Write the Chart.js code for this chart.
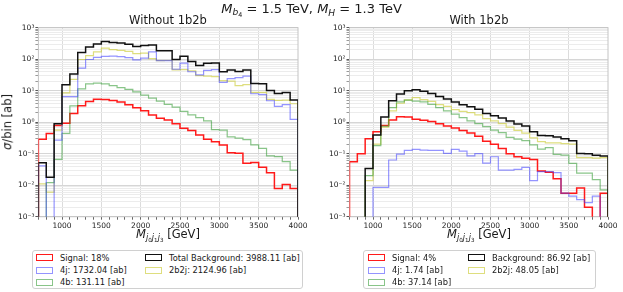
<!DOCTYPE html>
<html>
<head>
<meta charset="utf-8">
<script src="https://cdn.jsdelivr.net/npm/chart.js@4.4.1/dist/chart.umd.min.js"></script>
<style>
  body { margin: 0; background: #fff; font-family: "DejaVu Sans", sans-serif; }
  #fig { position: relative; width: 623px; height: 292px; overflow: hidden; background: #fff; }
  #fig canvas { position: absolute; left: 0; top: 0; }
  .txt { position: absolute; white-space: nowrap; color: #1a1a1a; line-height: 1; }
  .txt sub { font-size: 70%; vertical-align: -0.3em; line-height: 0; }
  .legend { position: absolute; border: 1px solid #d0d0d0; border-radius: 3px; background: #fff; box-sizing: border-box; }
  .legend .sw { position: absolute; width: 17px; height: 7px; box-sizing: border-box; border: 1.3px solid; }
  .legend .lt { position: absolute; font-size: 8.3px; color: #1a1a1a; white-space: nowrap; line-height: 1; }
</style>
</head>
<body>
<div id="fig">
  <canvas id="cLeft" width="623" height="292"></canvas>
  <canvas id="cRight" width="623" height="292"></canvas>

  <div class="txt" style="left:0;width:623px;text-align:center;top:1.5px;font-size:13px"><i>M</i><sub><i>b</i><sub>4</sub></sub> = 1.5 TeV, <i>M</i><sub><i>H</i></sub> = 1.3 TeV</div>
  <div class="txt" style="left:168px;top:21px;transform:translate(-50%,-50%);font-size:11.5px">Without 1b2b</div>
  <div class="txt" style="left:479px;top:21px;transform:translate(-50%,-50%);font-size:11.5px">With 1b2b</div>
  <div class="txt" style="left:8px;top:122px;transform:translate(-50%,-50%) rotate(-90deg);font-size:11.5px"><i>σ</i>/bin [ab]</div>
  <div class="txt" style="left:168px;top:235px;transform:translate(-50%,-50%);font-size:11.5px"><i>M</i><sub><i>j</i><sub>0</sub><i>j</i><sub>1</sub><i>j</i><sub>3</sub></sub> [GeV]</div>
  <div class="txt" style="left:479px;top:235px;transform:translate(-50%,-50%);font-size:11.5px"><i>M</i><sub><i>j</i><sub>0</sub><i>j</i><sub>1</sub><i>j</i><sub>3</sub></sub> [GeV]</div>

  <div class="legend" id="legLeft" style="left:32px;top:250px;width:271px;height:39px"></div>
  <div class="legend" id="legRight" style="left:363px;top:250px;width:233px;height:39px"></div>
</div>

<script>
// bin edges of the M_j0j1j3 histogram (GeV)
var binEdges = [700, 800, 900, 1000, 1100, 1200, 1300, 1400, 1500, 1600, 1700,
                1800, 1900, 2000, 2100, 2200, 2300, 2400, 2500, 2600, 2700, 2800,
                2900, 3000, 3100, 3200, 3300, 3400, 3500, 3600, 3700, 3800, 3900, 4000];
var xTickLabels = [1000, 1500, 2000, 2500, 3000, 3500, 4000];

// without 1b2b (sigma per bin, ab)
var signalL = [0.29, 0.44, 0.78, 0.92, 1.9, 3.3, 4.5, 5.4, 5.3, 4.9, 4.4, 3.6, 2.9, 2.3, 1.7, 1.33,
               1.17, 0.9, 0.64, 0.55, 0.39, 0.29, 0.24, 0.19, 0.108, 0.103, 0.05, 0.053, 0.037,
               0.025, 0.0079, 0.0105, 0.0079];
var fourjL = [0.041, 0, 0.27, 6.5, 6.5, 52, 98, 115, 123, 125, 120, 112, 95, 108, 170, 90, 90,
              48, 75, 40, 32, 44, 47, 18.5, 24, 26, 29, 8, 7.5, 4.8, 3.2, 3.6, 1.23];
var fourbL = [0, 0.012, 0.066, 0.44, 3.3, 11.5, 16.5, 17.5, 16.5, 14.5, 12.6, 11, 9.2, 7.2, 5.8,
              4.7, 3.7, 3.0, 2.2, 1.7, 1.4, 1.1, 0.58, 0.56, 0.34, 0.31, 0.28, 0.19, 0.148, 0.085,
              0.081, 0.056, 0.030];
var b2jL = [0.011, 0.006, 0.56, 8.5, 23, 98, 130, 172, 225, 200, 192, 177, 150, 155, 104, 90, 91,
            46, 47, 43, 30, 29, 28, 21, 20, 14.5, 15.5, 8.8, 8.8, 5.3, 4.9, 5.0, 3.85];
var totalL = [0.052, 0.018, 0.9, 15.5, 34, 162, 245, 305, 365, 340, 325, 300, 255, 270, 280, 185,
              185, 97, 124, 85, 63, 74, 76, 40, 45, 41, 45, 17, 16.5, 10.2, 8.2, 8.7, 5.1];

// with 1b2b
var signalR = [0.056, 0.1, 0.3, 0.5, 0.78, 1.17, 1.5, 1.45, 1.25, 1.15, 1.05, 0.9, 0.76, 0.66,
               0.55, 0.45, 0.36, 0.25, 0.2, 0.145, 0.1, 0.08, 0.072, 0.066, 0.028, 0.026, 0.016,
               0.0056, 0.0056, 0.0082, 0.002, 0, 0.0056];
var fourjR = [0, 0, 0, 0.0085, 0.0085, 0.063, 0.097, 0.128, 0.138, 0.13, 0.128, 0.127, 0.103,
              0.138, 0.12, 0.085, 0.1, 0.05, 0.08, 0.03, 0.03, 0.032, 0.037, 0.014, 0.027, 0.027,
              0.025, 0.0056, 0.0045, 0.0035, 0.0028, 0.0045, 0];
var fourbR = [0, 0, 0.02, 0.18, 0.75, 2.9, 4.4, 5.0, 4.7, 4.4, 3.7, 2.9, 2.3, 1.8, 1.4, 1.1, 0.9,
              0.72, 0.56, 0.47, 0.33, 0.29, 0.26, 0.19, 0.14, 0.155, 0.095, 0.09, 0.049, 0.024,
              0.024, 0.015, 0.0071];
var b2jR = [0, 0, 0.014, 0.2, 0.7, 2.3, 4.0, 5.1, 6.0, 5.2, 4.6, 3.6, 3.2, 2.5, 2.2, 2.0, 1.7, 1.3,
            1.1, 0.9, 0.7, 0.55, 0.45, 0.32, 0.24, 0.22, 0.22, 0.21, 0.2, 0.075, 0.075, 0.072, 0.075];
var totalR = [0, 0, 0.034, 0.39, 1.45, 4.8, 7.9, 10, 10.8, 9.6, 8.2, 6.6, 5.5, 4.4, 3.6, 3.1, 2.6,
              1.9, 1.6, 1.35, 1.1, 0.87, 0.76, 0.5, 0.38, 0.37, 0.34, 0.3, 0.26, 0.102, 0.1, 0.09, 0.084];

var legendL = ["Signal: 18%", "4j: 1732.04 [ab]", "4b: 131.11 [ab]", "Total Background: 3988.11 [ab]", "2b2j: 2124.96 [ab]"];
var legendR = ["Signal: 4%", "4j: 1.74 [ab]", "4b: 37.14 [ab]", "Background: 86.92 [ab]", "2b2j: 48.05 [ab]"];

var colors = {
    signal: "#ff1a1a",
    fourj: "rgba(60, 60, 255, 0.55)",
    fourb: "rgba(40, 150, 40, 0.55)",
    b2j: "rgba(200, 200, 40, 0.6)",
    total: "#111111"
};

var FLOOR = 1e-9; // empty bins drop below the axis
var SUP = {"-": "⁻", "0": "⁰", "1": "¹", "2": "²", "3": "³"};

function histPoints(vals) {
    var pts = [{x: binEdges[0], y: FLOOR}];
    vals.forEach(function (v, i) {
        var y = v > 0 ? v : FLOOR;
        pts.push({x: binEdges[i], y: y});
        pts.push({x: binEdges[i + 1], y: y});
    });
    pts.push({x: binEdges[binEdges.length - 1], y: FLOOR});
    return pts;
}

function isDecade(v) {
    var l = Math.log10(v);
    return Math.abs(l - Math.round(l)) < 1e-9;
}

var framePlugin = {
    id: "frame",
    beforeDatasetsDraw: function (chart) {
        var a = chart.chartArea, c = chart.ctx;
        c.save();
        c.strokeStyle = "#c4c4c4";
        c.lineWidth = 1;
        c.strokeRect(a.left, a.top, a.right - a.left, a.bottom - a.top);
        c.restore();
    }
};

function makeChart(id, padLeft, padRight, series) {
    var sets = [
        {vals: series.total, color: colors.total, w: 1.5},
        {vals: series.fourj, color: colors.fourj, w: 1.2},
        {vals: series.fourb, color: colors.fourb, w: 1.2},
        {vals: series.b2j, color: colors.b2j, w: 1.2},
        {vals: series.signal, color: colors.signal, w: 1.5}
    ];
    return new Chart(document.getElementById(id), {
        type: "line",
        data: {
            datasets: sets.map(function (s) {
                return {
                    data: histPoints(s.vals),
                    borderColor: s.color,
                    borderWidth: s.w,
                    pointRadius: 0,
                    fill: false,
                    tension: 0
                };
            })
        },
        options: {
            responsive: false,
            animation: false,
            events: [],
            layout: {padding: {left: padLeft, right: padRight, top: 27.7, bottom: 57.3}},
            plugins: {legend: {display: false}, tooltip: {enabled: false}},
            scales: {
                x: {
                    type: "linear",
                    min: 700,
                    max: 4000,
                    afterBuildTicks: function (scale) {
                        scale.ticks = binEdges.map(function (v) { return {value: v}; });
                    },
                    afterFit: function (scale) {
                        scale.height = 18;
                        scale.paddingLeft = 0;
                        scale.paddingRight = 0;
                    },
                    ticks: {
                        autoSkip: false,
                        maxRotation: 0,
                        padding: 2,
                        color: "#222",
                        font: {family: "DejaVu Sans", size: 7.5},
                        callback: function (v) { return xTickLabels.indexOf(v) >= 0 ? String(v) : ""; }
                    },
                    grid: {
                        color: function (ctx) {
                            var v = ctx.tick && ctx.tick.value;
                            return (xTickLabels.indexOf(v) >= 0 && v < 4000) ? "#dcdcdc" : "rgba(0,0,0,0)";
                        },
                        tickColor: "#666",
                        tickLength: 3
                    },
                    border: {display: false}
                },
                y: {
                    type: "logarithmic",
                    min: 1e-3,
                    max: 1e3,
                    afterBuildTicks: function (scale) {
                        var t = [];
                        for (var e = -3; e < 3; e++) {
                            for (var m = 1; m < 10; m++) {
                                t.push({value: Number((m * Math.pow(10, e)).toPrecision(3))});
                            }
                        }
                        t.push({value: 1000});
                        scale.ticks = t;
                    },
                    afterFit: function (scale) {
                        scale.width = 30;
                        scale.paddingTop = 0;
                        scale.paddingBottom = 0;
                    },
                    ticks: {
                        autoSkip: false,
                        padding: 1,
                        color: "#222",
                        font: {family: "DejaVu Sans", size: 7.5},
                        callback: function (v) {
                            if (!isDecade(v)) return "";
                            var e = String(Math.round(Math.log10(v)));
                            return "10" + e.split("").map(function (ch) { return SUP[ch]; }).join("");
                        }
                    },
                    grid: {
                        color: function (ctx) {
                            var v = ctx.tick && ctx.tick.value;
                            return isDecade(v) ? "#d6d6d6" : "#ececec";
                        },
                        tickColor: function (ctx) {
                            var v = ctx.tick && ctx.tick.value;
                            return isDecade(v) ? "#555" : "#999";
                        },
                        tickLength: 3
                    },
                    border: {display: false}
                }
            }
        },
        plugins: [framePlugin]
    });
}

function buildLegend(id, labels, colX) {
    var box = document.getElementById(id);
    var swColors = [colors.signal, colors.fourj, colors.fourb, colors.total, colors.b2j];
    var rowY = [3, 15.5, 27.5];
    labels.forEach(function (lab, i) {
        var col = i < 3 ? 0 : 1;
        var row = i < 3 ? i : i - 3;
        var sw = document.createElement("div");
        sw.className = "sw";
        sw.style.left = colX[col] + "px";
        sw.style.top = rowY[row] + "px";
        sw.style.borderColor = swColors[i];
        box.appendChild(sw);
        var t = document.createElement("div");
        t.className = "lt";
        t.style.left = (colX[col] + 24) + "px";
        t.style.top = (rowY[row] - 0.5) + "px";
        t.textContent = lab;
        box.appendChild(t);
    });
}

makeChart("cLeft", 8.4, 325, {signal: signalL, fourj: fourjL, fourb: fourbL, b2j: b2jL, total: totalL});
makeChart("cRight", 319.5, 15, {signal: signalR, fourj: fourjR, fourb: fourbR, b2j: b2jR, total: totalR});
buildLegend("legLeft", legendL, [3, 112]);
buildLegend("legRight", legendR, [4, 104]);
</script>
</body>
</html>
